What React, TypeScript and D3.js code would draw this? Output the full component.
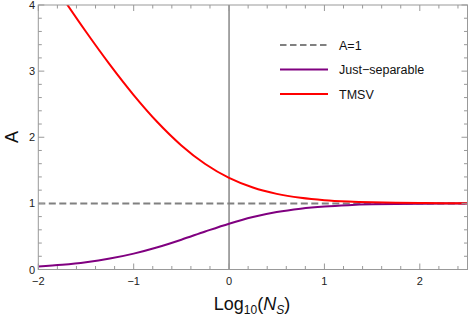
import React from "react";
import * as d3 from "d3";

const logN: number[] = [-2, -1.75, -1.5, -1.25, -1, -0.75, -0.5, -0.25, 0, 0.25, 0.5, 0.75, 1, 1.25, 1.5, 1.75, 2, 2.25, 2.5];
const tmsv: number[] = [4.661, 4.119, 3.595, 3.098, 2.638, 2.227, 1.877, 1.596, 1.386, 1.240, 1.144, 1.084, 1.048, 1.028, 1.016, 1.009, 1.005, 1.003, 1.002];
const justSep: number[] = [0.046, 0.072, 0.110, 0.165, 0.240, 0.336, 0.451, 0.575, 0.693, 0.793, 0.869, 0.920, 0.953, 0.973, 0.985, 0.991, 0.995, 0.997, 0.998];
const xTicks: number[] = [-2, -1, 0, 1, 2];
const yTicks: number[] = [0, 1, 2, 3, 4];
const legendLabels: string[] = ["A=1", "Just\u2212separable", "TMSV"];

const W = 469, H = 319;
const x = d3.scaleLinear().domain([-2, 2.5]).range([38.3, 467.5]);
const y = d3.scaleLinear().domain([0, 4]).range([269.5, 5]);

export default function App() {
  const line = d3
    .line<number>()
    .x((_, i) => x(logN[i]))
    .y((d) => y(d))
    .curve(d3.curveMonotoneX);
  const xMinor = d3.range(-2, 2.5001, 0.2).map((v) => Math.round(v * 10) / 10);
  const yMinor = d3.range(0, 4.0001, 0.2).map((v) => Math.round(v * 10) / 10);
  const fmt = d3.format("d");
  const [x0, x1] = x.range();
  const [y0, y1] = y.range();
  const frame = "#999999";
  const font = "'Liberation Sans', Arial, sans-serif";
  return (
    <svg width={W} height={H} style={{ position: "absolute", left: 0, top: 0 }}>
      <defs>
        <clipPath id="plot">
          <rect x={x0} y={y1} width={x1 - x0} height={y0 - y1} />
        </clipPath>
      </defs>
      <rect width={W} height={H} fill="white" />
      <line x1={x(0)} x2={x(0)} y1={y1} y2={y0} stroke="#888" strokeWidth={1.5} />
      <line x1={x0} x2={x1} y1={y(1)} y2={y(1)} stroke="#808080" strokeWidth={2} strokeDasharray="7,3.5" />
      <g clipPath="url(#plot)">
        <path d={line(justSep) || ""} fill="none" stroke="#800080" strokeWidth={2} />
        <path d={line(tmsv) || ""} fill="none" stroke="#ff0000" strokeWidth={2} />
      </g>
      <rect x={x0} y={y1} width={x1 - x0} height={y0 - y1} fill="none" stroke={frame} strokeWidth={1} />
      {xMinor.map((v) => {
        const major = xTicks.includes(v);
        const len = major ? 6 : 3.5;
        return (
          <g key={"xt" + v}>
            <line x1={x(v)} x2={x(v)} y1={y0} y2={y0 - len} stroke={frame} />
            <line x1={x(v)} x2={x(v)} y1={y1} y2={y1 + len} stroke={frame} />
          </g>
        );
      })}
      {yMinor.map((v) => {
        const major = yTicks.includes(v);
        const len = major ? 6 : 3.5;
        return (
          <g key={"yt" + v}>
            <line x1={x0} x2={x0 + len} y1={y(v)} y2={y(v)} stroke={frame} />
            <line x1={x1} x2={x1 - len} y1={y(v)} y2={y(v)} stroke={frame} />
          </g>
        );
      })}
      {xTicks.map((v) => (
        <text key={"xl" + v} x={x(v)} y={285} textAnchor="middle" fontSize={11} fontFamily={font} fill="#222">
          {fmt(v)}
        </text>
      ))}
      {yTicks.map((v) => (
        <text key={"yl" + v} x={35} y={y(v) + 4} textAnchor="end" fontSize={11} fontFamily={font} fill="#222">
          {fmt(v)}
        </text>
      ))}
      <text x={252} y={310} textAnchor="middle" fontSize={18} fontFamily={font} fill="#111">
        Log<tspan fontSize={12} dy={3.5}>10</tspan>
        <tspan dy={-3.5}>(</tspan>
        <tspan fontStyle="italic">N</tspan>
        <tspan fontSize={12} dy={3.5} fontStyle="italic">S</tspan>
        <tspan dy={-3.5}>)</tspan>
      </text>
      <text transform={`translate(18,137) rotate(-90)`} textAnchor="middle" fontSize={18} fontFamily={font} fill="#111">
        A
      </text>
      {legendLabels.map((lab, i) => {
        const ly = 45 + i * 24.5;
        const col = i === 0 ? "#808080" : i === 1 ? "#800080" : "#ff0000";
        return (
          <g key={lab}>
            <line x1={280} x2={328} y1={ly} y2={ly} stroke={col} strokeWidth={2} strokeDasharray={i === 0 ? "6.5,3.5" : undefined} />
            <text x={339} y={ly + 4.5} fontSize={12.5} fontFamily={font} fill="#111">
              {lab}
            </text>
          </g>
        );
      })}
    </svg>
  );
}
